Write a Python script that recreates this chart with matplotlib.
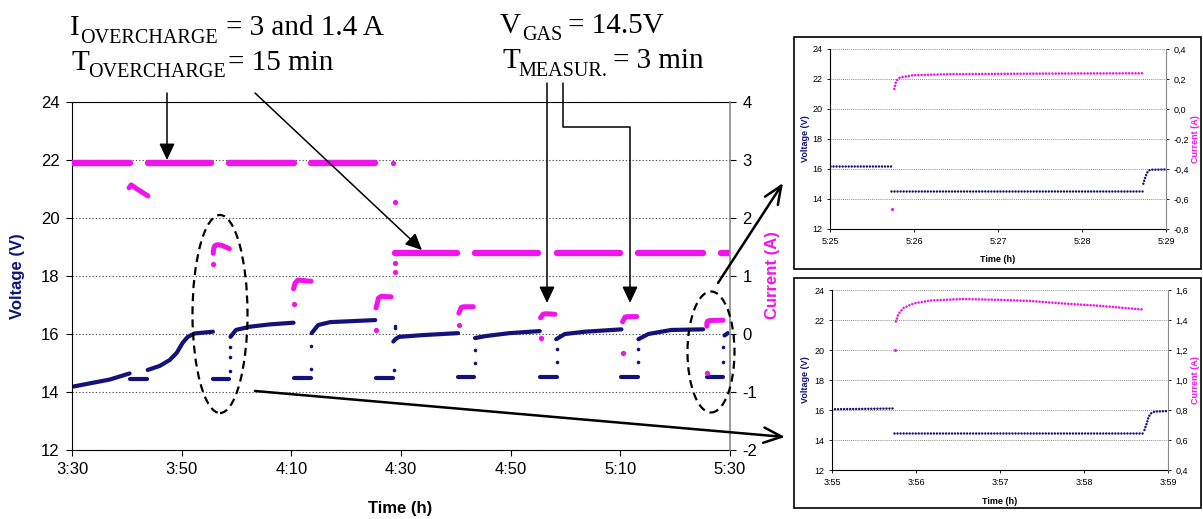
import matplotlib.pyplot as plt
from matplotlib.patches import Ellipse, Rectangle, FancyArrowPatch
from matplotlib.path import Path

W, H = 1203, 519
NAVY = '#12127a'
MAG = '#f014ec'

plt.rcParams['font.family'] = ['Liberation Sans', 'DejaVu Sans']
plt.rcParams['axes.unicode_minus'] = False

# ---------------- main chart (minutes after 3:30) ----------------
time_ticks = [0, 20, 40, 60, 80, 100, 120]
time_labels = ['3:30', '3:50', '4:10', '4:30', '4:50', '5:10', '5:30']

# overcharge current, flat runs: (start, end, A)
cur_runs = [(0.0, 10.55, 2.95), (13.8, 25.3, 2.95), (28.7, 40.4, 2.95), (43.6, 55.3, 2.95),
            (58.9, 70.2, 1.4), (73.5, 84.9, 1.4), (88.4, 100.0, 1.4), (103.3, 115.1, 1.4),
            (118.4, 120.0, 1.4)]

# current during the 3 min measurements at 14.5 V
meas_cur_t = [[10.4, 10.8, 11.7, 13.85],
              [40.4, 40.7, 41.2, 43.6],
              [55.45, 55.9, 56.4, 58.2],
              [70.55, 71.0, 71.5, 73.2],
              [85.45, 85.9, 86.4, 88.1],
              [100.4, 100.85, 101.3, 103.0]]
meas_cur_i = [[2.52, 2.57, 2.51, 2.38],
              [0.78, 0.88, 0.93, 0.91],
              [0.45, 0.62, 0.65, 0.64],
              [0.36, 0.46, 0.47, 0.47],
              [0.28, 0.34, 0.35, 0.34],
              [0.21, 0.29, 0.30, 0.30]]

# single current samples at switching
cur_dots_t = [40.4, 55.45, 58.55, 58.9, 58.9, 58.9, 70.55, 85.45, 100.4]
cur_dots_i = [0.52, 0.07, 2.95, 2.28, 1.07, 1.22, 0.15, -0.07, -0.33]

# voltage during overcharge
oc_volt_t = [[0, 3.3, 6.9, 10.5],
             [13.8, 16.0, 17.8, 19.1, 20.2, 21.1, 22.4, 25.7],
             [28.9, 29.9, 32.4, 36.0, 40.4],
             [43.7, 44.9, 47.1, 55.3],
             [58.6, 59.0, 59.6, 63.8, 70.4],
             [73.5, 75.5, 79.8, 85.3],
             [88.3, 89.9, 93.6, 100.2],
             [103.3, 105.1, 109.3, 115.1],
             [119.0, 119.6]]
oc_volt_v = [[14.18, 14.3, 14.43, 14.64],
             [14.76, 14.9, 15.1, 15.35, 15.7, 15.9, 16.02, 16.08],
             [15.9, 16.14, 16.25, 16.33, 16.39],
             [16.03, 16.31, 16.41, 16.48],
             [15.74, 15.82, 15.9, 15.96, 16.03],
             [15.86, 15.93, 16.03, 16.1],
             [15.82, 16.0, 16.08, 16.16],
             [15.82, 16.0, 16.14, 16.16],
             [15.95, 16.03]]

# voltage held at 14.5 V: (start, end, V)
meas_volt = [(10.6, 13.7, 14.45), (40.5, 43.5, 14.48), (55.45, 58.5, 14.5),
             (70.4, 73.3, 14.52), (85.3, 88.4, 14.52), (100.2, 103.3, 14.52)]

v_dots_t = [28.75, 28.75, 28.75, 43.6, 43.6, 58.8, 58.9, 58.9, 73.45, 73.45,
            88.4, 88.4, 103.3, 103.3, 118.75, 118.78]
v_dots_v = [14.73, 15.22, 15.56, 14.79, 15.58, 14.76, 16.2, 16.28, 15.0, 15.45,
            15.05, 15.5, 15.05, 15.5, 15.02, 15.55]

# ---------------- inset 3:55 - 3:59 (minutes after 3:55) ----------------
lo_ticks = ['3:55', '3:56', '3:57', '3:58', '3:59']
lo_cur_ticks = [0.4, 0.6, 0.8, 1.0, 1.2, 1.4, 1.6]
lo_v_t = [[0.0, 0.73], [0.74, 3.70], [3.72, 3.75, 3.77, 3.80, 3.84, 4.0]]
lo_v = [[16.05, 16.1], [14.45, 14.45], [14.67, 15.16, 15.56, 15.78, 15.89, 15.93]]
lo_i_t = [0.76, 0.79, 0.85, 0.97, 1.17, 1.56, 1.96, 2.36, 2.75, 3.15, 3.7]
lo_i = [1.39, 1.44, 1.48, 1.51, 1.53, 1.54, 1.535, 1.527, 1.51, 1.496, 1.47]
lo_dot_t, lo_dot_i = 0.745, 1.2

# ---------------- inset 5:25 - 5:29 (minutes after 5:25) ----------------
hi_ticks = ['5:25', '5:26', '5:27', '5:28', '5:29']
hi_cur_ticks = [-0.8, -0.6, -0.4, -0.2, 0.0, 0.2, 0.4]
hi_v_t = [[0.0, 0.73], [0.73, 3.73], [3.73, 3.76, 3.78, 3.81, 4.0]]
hi_v = [[16.17, 16.17], [14.51, 14.51], [15.02, 15.55, 15.8, 15.95, 15.97]]
hi_i_t = [0.766, 0.786, 0.81, 0.833, 0.99, 1.39, 2.5, 3.73]
hi_i = [0.134, 0.185, 0.2, 0.21, 0.225, 0.232, 0.236, 0.238]
hi_dot_t, hi_dot_i = 0.734, -0.667


def box(l, t, r, b):
    return [l / W, 1 - b / H, (r - l) / W, (b - t) / H]


def fp(x, y):
    return (x / W, 1 - y / H)


fig = plt.figure(figsize=(W / 100, H / 100), dpi=100)

ax = fig.add_axes(box(72, 102, 730, 450))
ax2 = ax.twinx()
ax.set_xlim(0, 120)
ax.set_ylim(12, 24)
ax2.set_ylim(-2, 4)
ax.set_xticks(time_ticks, time_labels)
ax.set_yticks(range(12, 25, 2))
ax2.set_yticks(range(-2, 5))
for a in (ax, ax2):
    a.tick_params(direction='out', length=4, width=0.8, labelsize=12, pad=5)
ax.grid(axis='y', color='#555555', ls=(0, (1.2, 1.8)), lw=0.8)
ax.spines['right'].set_visible(False)
for s in ('top', 'left', 'bottom'):
    ax2.spines[s].set_visible(False)
ax2.spines['right'].set_color('#888888')
ax2.spines['right'].set_linewidth(1.2)

# current
for t0, t1, i in cur_runs:
    ax2.plot([t0, t1], [i, i], color=MAG, lw=4.6, solid_capstyle='round')
for ts, iv in zip(meas_cur_t, meas_cur_i):
    ax2.plot(ts, iv, color=MAG, lw=3.6, solid_capstyle='round')
ax2.plot([t + 25 for t in lo_i_t], lo_i, color=MAG, lw=3.6, solid_capstyle='round')
ax2.plot([t + 115 for t in hi_i_t], hi_i, color=MAG, lw=3.6, solid_capstyle='round')
ax2.plot(cur_dots_t + [lo_dot_t + 25, hi_dot_t + 115], cur_dots_i + [lo_dot_i, hi_dot_i],
         'o', color=MAG, ms=3.8, mec='none')

# voltage
for ts, vs in zip(oc_volt_t, oc_volt_v):
    ax.plot(ts, vs, color=NAVY, lw=3.0, solid_capstyle='round')
for t0, t1, v in meas_volt:
    ax.plot([t0, t1], [v, v], color=NAVY, lw=3.0, solid_capstyle='round')
ax.plot([lo_v_t[1][0] + 25, lo_v_t[1][1] + 25], lo_v[1], color=NAVY, lw=3.0, solid_capstyle='round')
ax.plot([hi_v_t[1][0] + 115, hi_v_t[1][1] + 115], hi_v[1], color=NAVY, lw=3.0, solid_capstyle='round')
ax.plot(v_dots_t, v_dots_v, 'o', color=NAVY, ms=2.6, mec='none')

fig.text(*fp(18, 276), 'Voltage (V)', rotation=90, ha='center', va='center',
         color=NAVY, fontsize=12, fontweight='bold')
fig.text(*fp(773, 275), 'Current (A)', rotation=90, ha='center', va='center',
         color=MAG, fontsize=12, fontweight='bold')
fig.text(*fp(400, 508), 'Time (h)', ha='center', va='center', fontsize=12, fontweight='bold')


# ---------------- insets ----------------
def inset(rect, frame, ylab_y, cur_ticks, cur_lim, tick_lbls, v_t, v, i_t, i, dot_t, dot_i, xlab_y):
    fig.add_artist(Rectangle(fp(frame[0], frame[3]), (frame[2] - frame[0]) / W,
                             (frame[3] - frame[1]) / H, transform=fig.transFigure,
                             fill=False, ec='black', lw=1.2))
    a = fig.add_axes(box(*rect))
    b = a.twinx()
    a.set_xlim(0, 4)
    a.set_ylim(12, 24)
    b.set_ylim(*cur_lim)
    a.set_xticks(range(5), tick_lbls)
    a.set_yticks(range(12, 25, 2))
    b.set_yticks(cur_ticks, [f'{c:.1f}'.replace('.', ',') for c in cur_ticks])
    for x in (a, b):
        x.tick_params(direction='out', length=2.5, width=0.6, labelsize=6.5, pad=3)
    a.grid(axis='y', color='#666666', ls=(0, (1, 1.5)), lw=0.6)
    a.spines['top'].set_visible(False)
    a.spines['right'].set_visible(False)
    for s in ('top', 'left', 'bottom'):
        b.spines[s].set_visible(False)
    b.spines['right'].set_color('#888888')
    for ts, vs in zip(v_t, v):
        a.plot(ts, vs, color=NAVY, lw=1.8, ls=(0, (0.01, 1.2)), dash_capstyle='round')
    b.plot(i_t, i, color=MAG, lw=1.9, ls=(0, (0.01, 1.2)), dash_capstyle='round')
    b.plot([dot_t], [dot_i], 'o', color=MAG, ms=2.2, mec='none')
    fig.text(*fp(805, ylab_y), 'Voltage (V)', rotation=90, ha='center', va='center',
             color=NAVY, fontsize=6.5, fontweight='bold')
    fig.text(*fp(1196, ylab_y), 'Current (A)', rotation=90, ha='center', va='center',
             color=MAG, fontsize=6.5, fontweight='bold')
    fig.text(*fp((rect[0] + rect[2]) / 2, xlab_y), 'Time (h)', ha='center', va='center',
             fontsize=6.5, fontweight='bold')


inset((830, 49, 1166, 229), (794, 37, 1201, 269), 139, hi_cur_ticks, (-0.8, 0.4), hi_ticks,
      hi_v_t, hi_v, hi_i_t, hi_i, hi_dot_t, hi_dot_i, 260)
inset((832, 290, 1168, 470), (794, 278, 1201, 508), 380, lo_cur_ticks, (0.4, 1.6), lo_ticks,
      lo_v_t, lo_v, lo_i_t, lo_i, lo_dot_t, lo_dot_i, 502)

# ---------------- annotations ----------------
serif = dict(family=['Liberation Serif', 'DejaVu Serif'], va='baseline', ha='left', color='black')
for x, y, s, size in [(70, 35, 'I', 21), (80, 43, 'OVERCHARGE', 14.5), (226, 35, '= 3 and 1.4 A', 21),
                      (71, 70, 'T', 21), (88, 77, 'OVERCHARGE', 14.5), (228, 70, '= 15 min', 21),
                      (500, 33, 'V', 21), (522, 40, 'GAS', 14.5), (568, 33, '= 14.5V', 21),
                      (503, 68, 'T', 21), (518, 76, 'MEASUR.', 14.5), (613, 68, '= 3 min', 21)]:
    fig.text(*fp(x, y), s, fontsize=size, **serif)

filled = dict(arrowstyle='-|>,head_length=1.0,head_width=0.47', mutation_scale=10,
              color='black', lw=1.1, shrinkA=0, shrinkB=0, transform=fig.transFigure)
opened = dict(arrowstyle='->,head_length=1.3,head_width=0.55', mutation_scale=10,
              color='black', lw=1.8, shrinkA=0, shrinkB=0, transform=fig.transFigure)
fig.add_artist(FancyArrowPatch(fp(167, 93), fp(167, 160), **filled))
fig.add_artist(FancyArrowPatch(fp(255, 93), fp(422, 250), **filled))
fig.add_artist(FancyArrowPatch(fp(547, 83), fp(547, 303), **filled))
elbow = Path([fp(563, 83), fp(563, 127), fp(630, 127), fp(630, 303)])
fig.add_artist(FancyArrowPatch(path=elbow, **filled))
fig.add_artist(FancyArrowPatch(fp(718, 283), fp(783, 183), **opened))
fig.add_artist(FancyArrowPatch(fp(255, 391), fp(785, 437), **opened))

for cx, cy, w, h in [(220, 314, 55, 198), (711, 352, 47, 121)]:
    fig.add_artist(Ellipse(fp(cx, cy), w / W, h / H, transform=fig.transFigure, fill=False,
                           ec='black', lw=1.6, ls=(0, (3.6, 2.3))))

fig.savefig('out.png', dpi=100)
